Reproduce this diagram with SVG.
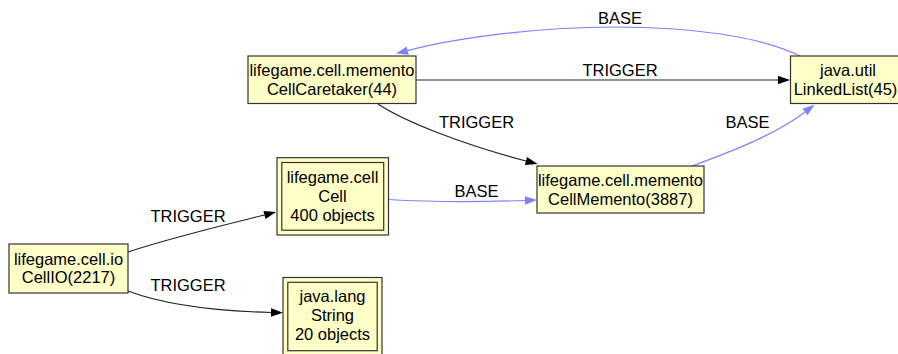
<svg xmlns="http://www.w3.org/2000/svg" width="898" height="354" viewBox="0 0 898 354">
<defs>
<style>
.node rect{fill:#ffffc8;stroke:#333;stroke-width:1.2}
text{font-family:"Liberation Sans",Arial,sans-serif;font-size:16.5px;fill:#000;text-anchor:middle}
.e{fill:none;stroke-width:1.2}
.trig{stroke:#222;marker-end:url(#ah)}
.base{stroke:#8080ff;marker-end:url(#ahb)}
</style>
<marker id="ah" markerUnits="userSpaceOnUse" markerWidth="12" markerHeight="9" refX="0" refY="4.2" orient="auto" overflow="visible">
<path d="M0,0 L12,4.2 L0,8.4 z" fill="#000"/>
</marker>
<marker id="ahb" markerUnits="userSpaceOnUse" markerWidth="12" markerHeight="9" refX="0" refY="4.2" orient="auto" overflow="visible">
<path d="M0,0 L12,4.2 L0,8.4 z" fill="#8080ff"/>
</marker>
</defs>
<rect width="898" height="354" fill="#fff"/>
<g id="connectors">
<path class="e trig" d="M416,80 L778,80"/>
<text x="620" y="75.5">TRIGGER</text>
<path class="e base" d="M800,56 C760,36 690,27 615,27 C540,27 460,37 407.7,50.6"/>
<text x="620" y="23.5">BASE</text>
<path class="e trig" d="M378,104 C405,122 465,145 526,161"/>
<text x="476.5" y="128">TRIGGER</text>
<path class="e base" d="M692,166 C730,152 775,135 805,112"/>
<text x="747.5" y="128">BASE</text>
<path class="e base" d="M388,199.5 C430,202 480,202 525,200.5"/>
<text x="476.5" y="197">BASE</text>
<path class="e trig" d="M128,252 C170,238 220,226 264.5,215"/>
<text x="188" y="222">TRIGGER</text>
<path class="e trig" d="M128,291 C165,305 215,311 271,312.5"/>
<text x="188" y="291">TRIGGER</text>
</g>
<g id="CellCaretaker" class="node">
<rect x="248" y="56" width="168" height="47.5"/>
<text x="332" y="76">lifegame.cell.memento</text>
<text x="332" y="94.5">CellCaretaker(44)</text>
</g>
<g id="LinkedList" class="node">
<rect x="790.5" y="56" width="116" height="47.5"/>
<text x="848" y="76">java.util</text>
<text x="845.5" y="94.5">LinkedList(45)</text>
</g>
<g id="CellMemento" class="node">
<rect x="537" y="166" width="167" height="47"/>
<text x="620.5" y="186">lifegame.cell.memento</text>
<text x="620.5" y="204.5">CellMemento(3887)</text>
</g>
<g id="Cell" class="node">
<rect x="277" y="157.7" width="111.5" height="77.3"/>
<rect x="281.8" y="162.5" width="101.9" height="67.7"/>
<text x="332.5" y="182.5">lifegame.cell</text>
<text x="332.5" y="201.5">Cell</text>
<text x="332.5" y="220.5">400 objects</text>
</g>
<g id="CellIO" class="node">
<rect x="9" y="244" width="119" height="49"/>
<text x="68.5" y="264.5">lifegame.cell.io</text>
<text x="68.5" y="283">CellIO(2217)</text>
</g>
<g id="String" class="node">
<rect x="283" y="277.5" width="99" height="78"/>
<rect x="287.8" y="282.3" width="89.4" height="68.4"/>
<text x="332.5" y="302.3">java.lang</text>
<text x="332.5" y="321.3">String</text>
<text x="332.5" y="340.3">20 objects</text>
</g>
</svg>
